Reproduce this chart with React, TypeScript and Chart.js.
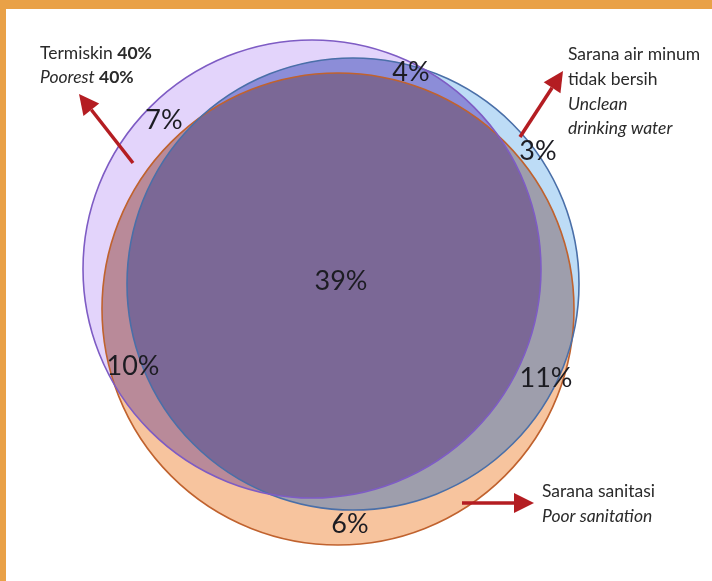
import React, { useEffect, useRef } from "react";
import { Chart, registerables } from "chart.js";

Chart.register(...registerables);

// ---- Data ----
const setNames = ["Termiskin 40%", "Sarana air minum tidak bersih", "Sarana sanitasi"];
const circleX = [312, 353, 338];
const circleY = [269, 284, 309];
const circleR = [229, 226, 236];

const regionLabels = ["7%", "4%", "3%", "39%", "10%", "11%", "6%"];
const regionX = [164, 411, 538, 341, 133, 546, 350];
const regionY = [120, 72, 151, 281, 366, 378, 524];

// Arrows: tail -> tip
const arrowTailX = [133, 520, 462];
const arrowTailY = [163, 137, 503];
const arrowTipX = [79, 563, 534];
const arrowTipY = [94, 71, 503];

type Run = { t: string; bold?: boolean; italic?: boolean };
const noteLines: { x: number; y: number; runs: Run[] }[] = [
  { x: 40, y: 59, runs: [{ t: "Termiskin " }, { t: "40%", bold: true }] },
  { x: 40, y: 83, runs: [{ t: "Poorest", italic: true }, { t: " 40%", bold: true }] },
  { x: 568, y: 60, runs: [{ t: "Sarana air minum" }] },
  { x: 568, y: 85, runs: [{ t: "tidak bersih" }] },
  { x: 568, y: 110, runs: [{ t: "Unclean", italic: true }] },
  { x: 568, y: 134, runs: [{ t: "drinking water", italic: true }] },
  { x: 542, y: 497, runs: [{ t: "Sarana sanitasi" }] },
  { x: 542, y: 522, runs: [{ t: "Poor sanitation", italic: true }] },
];

// region colours: A only, B only, C only, AB, AC, BC, ABC
const COL = {
  a: "#e3d4fb",
  b: "#bddcf6",
  c: "#f7c49e",
  ab: "#8c8dd8",
  ac: "#b98a99",
  bc: "#9e9eac",
  abc: "#7b6896",
};
const strokeCols = ["#7e5cc4", "#4a6fa8", "#c0622e"];

const vennPlugin = {
  id: "venn",
  beforeDraw(chart: any) {
    const ctx = chart.ctx as CanvasRenderingContext2D;
    ctx.save();
    ctx.fillStyle = "#ffffff";
    ctx.fillRect(0, 0, chart.width, chart.height);
    ctx.fillStyle = "#e9a147";
    ctx.fillRect(0, 0, chart.width, 9);
    ctx.fillRect(0, 0, 6, chart.height);
    ctx.restore();
  },
  afterDatasetsDraw(chart: any) {
    const ctx = chart.ctx as CanvasRenderingContext2D;
    const xs = chart.scales.x;
    const ys = chart.scales.y;
    const circ = chart.data.datasets.map((ds: any) => {
      const p = ds.data[0];
      const cx = xs.getPixelForValue(p.x);
      const cy = ys.getPixelForValue(p.y);
      const r = xs.getPixelForValue(p.x + ds.radius) - cx;
      return { cx, cy, r };
    });
    const path = (i: number) => {
      ctx.beginPath();
      ctx.arc(circ[i].cx, circ[i].cy, circ[i].r, 0, Math.PI * 2);
    };
    const fillWith = (clips: number[], target: number, color: string) => {
      ctx.save();
      clips.forEach((c) => {
        path(c);
        ctx.clip();
      });
      path(target);
      ctx.fillStyle = color;
      ctx.fill();
      ctx.restore();
    };
    fillWith([], 0, COL.a);
    fillWith([], 1, COL.b);
    fillWith([], 2, COL.c);
    fillWith([0], 1, COL.ab);
    fillWith([0], 2, COL.ac);
    fillWith([1], 2, COL.bc);
    fillWith([0, 1], 2, COL.abc);
    [2, 1, 0].forEach((i) => {
      path(i);
      ctx.lineWidth = 1.6;
      ctx.strokeStyle = strokeCols[i];
      ctx.stroke();
    });

    // arrows
    ctx.save();
    ctx.strokeStyle = "#b41d22";
    ctx.fillStyle = "#b41d22";
    for (let i = 0; i < arrowTailX.length; i++) {
      const x1 = xs.getPixelForValue(arrowTailX[i]);
      const y1 = ys.getPixelForValue(arrowTailY[i]);
      const x2 = xs.getPixelForValue(arrowTipX[i]);
      const y2 = ys.getPixelForValue(arrowTipY[i]);
      const ang = Math.atan2(y2 - y1, x2 - x1);
      const headL = 20;
      const headW = 10;
      const bx = x2 - headL * Math.cos(ang);
      const by = y2 - headL * Math.sin(ang);
      ctx.lineWidth = 3.5;
      ctx.beginPath();
      ctx.moveTo(x1, y1);
      ctx.lineTo(bx, by);
      ctx.stroke();
      ctx.beginPath();
      ctx.moveTo(x2, y2);
      ctx.lineTo(bx + headW * Math.sin(ang), by - headW * Math.cos(ang));
      ctx.lineTo(bx - headW * Math.sin(ang), by + headW * Math.cos(ang));
      ctx.closePath();
      ctx.fill();
    }
    ctx.restore();

    // region labels
    ctx.save();
    ctx.fillStyle = "#1c1c22";
    ctx.font = "27px Lato, 'Open Sans', sans-serif";
    ctx.textAlign = "center";
    ctx.textBaseline = "middle";
    regionLabels.forEach((t, i) => {
      ctx.fillText(t, xs.getPixelForValue(regionX[i]), ys.getPixelForValue(regionY[i]));
    });
    ctx.restore();

    // notes
    ctx.save();
    ctx.fillStyle = "#2a2a2a";
    ctx.textAlign = "left";
    ctx.textBaseline = "alphabetic";
    noteLines.forEach((ln) => {
      let x = xs.getPixelForValue(ln.x);
      const y = ys.getPixelForValue(ln.y);
      ln.runs.forEach((r) => {
        ctx.font = `${r.italic ? "italic " : ""}${r.bold ? "bold " : ""}17.5px Lato, 'Open Sans', sans-serif`;
        ctx.fillText(r.t, x, y);
        x += ctx.measureText(r.t).width;
      });
    });
    ctx.restore();
  },
};

export default function App() {
  const ref = useRef<HTMLCanvasElement | null>(null);
  useEffect(() => {
    if (!ref.current) return;
    const chart = new Chart(ref.current, {
      type: "scatter",
      data: {
        datasets: setNames.map((name, i) => ({
          label: name,
          data: [{ x: circleX[i], y: circleY[i] }],
          radius: circleR[i],
          pointRadius: 0,
          showLine: false,
        })) as any,
      },
      options: {
        animation: false,
        responsive: true,
        maintainAspectRatio: false,
        layout: { padding: 0 },
        plugins: { legend: { display: false }, tooltip: { enabled: false } },
        scales: {
          x: { type: "linear", min: 0, max: 712, display: false },
          y: { type: "linear", min: 0, max: 581, reverse: true, display: false },
        },
      },
      plugins: [vennPlugin],
    });
    return () => chart.destroy();
  }, []);
  return (
    <div style={{ position: "fixed", left: 0, top: 0, width: 712, height: 581 }}>
      <canvas ref={ref} />
    </div>
  );
}
